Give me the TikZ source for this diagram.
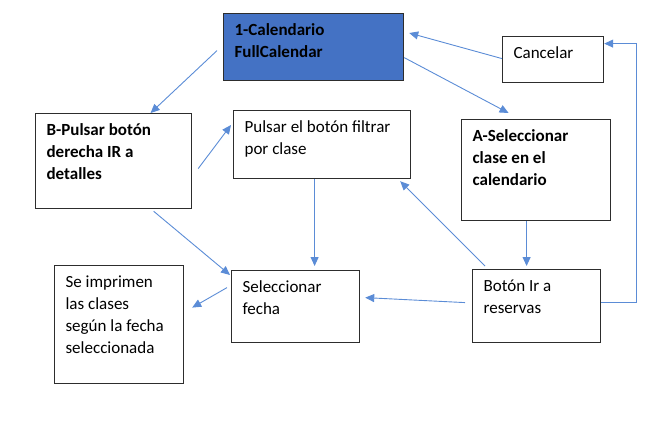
\documentclass[tikz,border=0pt]{standalone}
\usepackage{fontspec}
\setmainfont{Carlito}
\usepackage{tikz}
\usetikzlibrary{shapes,arrows.meta,positioning}

\definecolor{azul}{RGB}{68,114,196}
\definecolor{linea}{RGB}{91,140,214}
\definecolor{borde}{RGB}{45,45,45}

% text box: width, height, text
\newcommand{\caja}[3]{\parbox[t][#2][t]{#1}{\raggedright\strut #3}}

\tikzset{
  paso/.style={draw=borde, line width=1.2pt, anchor=north west, inner xsep=11pt, inner ysep=6.6pt,
    font=\fontsize{17}{22}\selectfont},
  flecha/.style={draw=linea, line width=0.9pt, -{Triangle[length=9pt,width=8pt]}}
}

\begin{document}
\begin{tikzpicture}[x=1pt,y=-1pt]
\useasboundingbox (0,0) rectangle (672,421);

\node[paso, fill=azul] (cal) at (223,13) {\caja{158pt}{53.8pt}{\textbf{1-Calendario}\\\textbf{FullCalendar}}};
\node[paso] (cancelar) at (502,36) {\caja{79pt}{32.8pt}{Cancelar}};
\node[paso] (detalles) at (35,113) {\caja{134pt}{81.8pt}{\textbf{B-Pulsar botón}\\\textbf{derecha IR a}\\\textbf{detalles}}};
\node[paso] (filtrar) at (233,110) {\caja{155pt}{54.8pt}{Pulsar el botón filtrar\\por clase}};
\node[paso] (seleccion) at (461,119) {\caja{127pt}{87.8pt}{\textbf{A-Seleccionar}\\\textbf{clase en el}\\\textbf{calendario}}};
\node[paso] (fecha) at (231,270) {\caja{106pt}{58.8pt}{Seleccionar\\fecha}};
\node[paso] (imprimir) at (54,265) {\caja{107pt}{104.8pt}{Se imprimen\\las clases\\según la fecha\\seleccionada}};
\node[paso] (reservas) at (472,269) {\caja{106pt}{59.8pt}{Botón Ir a\\reservas}};

\draw[flecha] ([xshift=-6pt,yshift=-3.5pt]cal.west) -- ([xshift=37pt]detalles.north);
\draw[flecha] ([xshift=6pt,yshift=-7.5pt]detalles.east) -- ([xshift=-2pt,yshift=-15pt]filtrar.north west);
\draw[flecha] ([yshift=-10.5pt]cal.east) -- ([xshift=-27.5pt,yshift=6pt]seleccion.north);
\draw[flecha] ([yshift=1pt]cancelar.west) -- ([xshift=5pt,yshift=-20pt]cal.north east);
\draw[flecha] ([yshift=3.5pt]reservas.east) -- ++(35,0) |- ([yshift=16pt]cancelar.east);
\draw[flecha] ([xshift=-7.5pt]filtrar.south) -- ([xshift=19pt,yshift=4pt]fecha.north);
\draw[flecha] ([xshift=40pt,yshift=-2pt]detalles.south) -- ([xshift=-1pt,yshift=-5pt]fecha.north west);
\draw[flecha] ([xshift=-4pt,yshift=19pt]fecha.west) -- ([xshift=8pt,yshift=17pt]imprimir.east);
\draw[flecha] ([xshift=-9.5pt]seleccion.south) -- ([xshift=-10pt,yshift=3pt]reservas.north);
\draw[flecha] ([xshift=13pt,yshift=3pt]reservas.north west) -- ([xshift=-11pt,yshift=-2pt]filtrar.south east);
\draw[flecha] ([xshift=-7pt,yshift=3.5pt]reservas.west) -- ([xshift=5pt,yshift=9pt]fecha.east);
\end{tikzpicture}
\end{document}
